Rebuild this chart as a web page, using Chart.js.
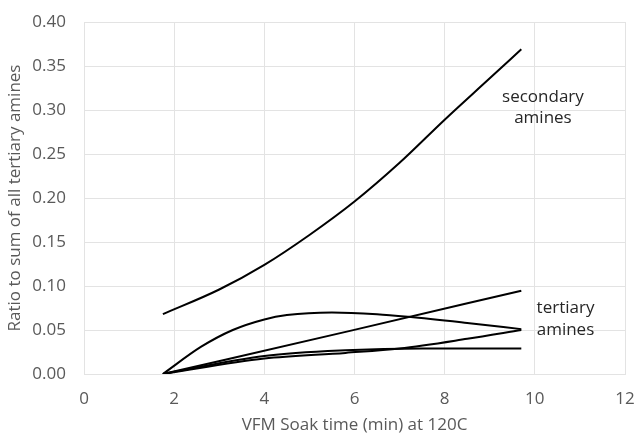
<!DOCTYPE html>
<html>
<head>
<meta charset="utf-8">
<script src="https://cdn.jsdelivr.net/npm/chart.js@4/dist/chart.umd.min.js"></script>
<style>
  html, body { margin: 0; padding: 0; background: #fff; }
  #wrap { width: 639px; height: 435px; }
</style>
</head>
<body>
<div id="wrap"><canvas id="soakChart" width="639" height="435"></canvas></div>
<script>
// values
const secX = [1.75, 3, 4, 5, 6, 7, 8, 9, 9.7];
const secY = [0.068, 0.096, 0.124, 0.158, 0.196, 0.240, 0.289, 0.336, 0.369];

const humpX = [1.75, 2.6, 3.3, 4, 4.5, 5.5, 6.5, 7.2, 8.5, 9.7];
const humpY = [0, 0.031, 0.050, 0.062, 0.067, 0.070, 0.068, 0.065, 0.058, 0.051];

const straightX = [1.75, 5.9, 9.7];
const straightY = [0, 0.049, 0.0947];

const riseX = [1.75, 4, 5.8, 7, 8.5, 9.7];
const riseY = [0, 0.0175, 0.024, 0.029, 0.040, 0.050];

const flatX = [1.75, 4, 5.8, 7.5, 9.7];
const flatY = [0, 0.0205, 0.027, 0.029, 0.029];

const xTicks = [0, 2, 4, 6, 8, 10, 12];

// label text, anchored in data units
const notes = [
    { text: 'secondary', x: 10.18, y: 0.315 },
    { text: 'amines', x: 10.18, y: 0.291 },
    { text: 'tertiary', x: 10.68, y: 0.075 },
    { text: 'amines', x: 10.68, y: 0.050 }
];

const FONT = '"Open Sans", "DejaVu Sans", sans-serif';

function pts(xs, ys) {
    return xs.map((x, i) => ({ x: x, y: ys[i] }));
}

function line(xs, ys) {
    return {
        data: pts(xs, ys),
        showLine: true,
        borderColor: '#000',
        borderWidth: 2,
        pointRadius: 0,
        cubicInterpolationMode: 'monotone',
        fill: false
    };
}

const notePlugin = {
    id: 'notes',
    afterDatasetsDraw(chart) {
        const ctx = chart.ctx;
        const xs = chart.scales.x, ys = chart.scales.y;
        ctx.save();
        ctx.font = '17px ' + FONT;
        ctx.fillStyle = '#262626';
        ctx.textAlign = 'center';
        ctx.textBaseline = 'middle';
        notes.forEach(n => {
            ctx.fillText(n.text, xs.getPixelForValue(n.x), ys.getPixelForValue(n.y));
        });
        ctx.restore();
    }
};

const ctx = document.getElementById('soakChart');

new Chart(ctx, {
    type: 'scatter',
    data: {
        datasets: [
            line(secX, secY),
            line(humpX, humpY),
            line(straightX, straightY),
            line(riseX, riseY),
            line(flatX, flatY)
        ]
    },
    options: {
        responsive: false,
        animation: false,
        layout: { padding: { top: 22, right: 14, bottom: 0, left: 0 } },
        plugins: {
            legend: { display: false },
            tooltip: { enabled: false }
        },
        scales: {
            x: {
                type: 'linear',
                min: 0,
                max: 12,
                afterBuildTicks: s => { s.ticks = xTicks.map(v => ({ value: v })); },
                grid: { color: '#e3e3e3', lineWidth: 1, drawTicks: false },
                border: { color: '#e3e3e3' },
                ticks: {
                    padding: 15,
                    color: '#595959',
                    font: { family: FONT, size: 17 }
                },
                title: {
                    display: true,
                    text: 'VFM Soak time (min) at 120C',
                    color: '#595959',
                    font: { family: FONT, size: 17 },
                    padding: { top: 5, bottom: 0 }
                },
                afterFit: s => {
                    s.height = 61;
                    s.paddingLeft = 0;
                    s.paddingRight = 0;
                }
            },
            y: {
                min: 0,
                max: 0.4,
                ticks: {
                    stepSize: 0.05,
                    padding: 18,
                    color: '#595959',
                    font: { family: FONT, size: 17 },
                    callback: v => v.toFixed(2)
                },
                grid: { color: '#e3e3e3', lineWidth: 1, drawTicks: false },
                border: { color: '#e3e3e3' },
                title: {
                    display: true,
                    text: 'Ratio to sum of all tertiary amines',
                    color: '#595959',
                    font: { family: FONT, size: 17 },
                    padding: { top: 5, bottom: 0 }
                },
                afterFit: s => {
                    s.width = 84;
                    s.paddingTop = 0;
                    s.paddingBottom = 0;
                }
            }
        }
    },
    plugins: [notePlugin]
});
</script>
</body>
</html>
